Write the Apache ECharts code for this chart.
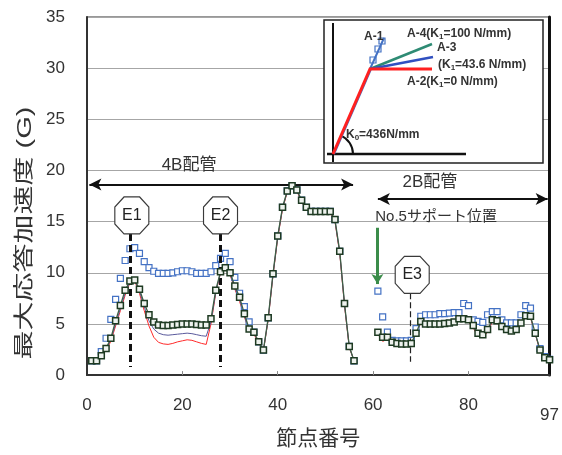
<!DOCTYPE html>
<html>
<head>
<meta charset="utf-8">
<script src="https://cdn.jsdelivr.net/npm/echarts@6/dist/echarts.min.js"></script>
<style>
html, body { margin: 0; padding: 0; background: #fff; }
#chart { width: 562px; height: 455px; }
</style>
</head>
<body>
<div id="chart"></div>
<script>
// Maximum response acceleration (G) per node, nodes 1..97 (57-60 have no value)
const caseA1 = [1.4,1.4,2.3,3.6,5.45,7.4,9.45,11.2,12.35,12.45,
  11.9,11.1,10.5,10.15,9.95,9.95,9.95,10.0,10.1,10.2,
  10.2,10.1,9.95,9.95,9.95,10.1,10.7,11.4,11.9,11.1,
  9.55,8.0,6.7,5.2,4.2,3.25,2.45,5.6,9.9,13.6,
  16.4,18.0,18.5,18.1,17.1,16.4,16.0,16.0,16.0,16.0,
  16.0,15.2,12.1,7.0,2.8,1.4,null,null,null,null,
  8.2,5.7,4.2,3.4,3.35,3.35,3.35,3.4,4.55,5.75,
  5.9,5.9,5.9,6.0,6.0,6.05,6.1,6.1,7.0,6.8,
  5.4,5.25,5.15,5.9,6.2,6.2,5.4,5.1,5.1,5.1,
  5.9,6.8,6.55,4.7,2.6,1.8,1.55];

const caseA2 = [1.4,1.4,1.8,2.4,3.3,4.8,6.3,7.8,9.0,9.2,
  8.0,6.3,4.8,3.7,3.2,3.05,3.0,3.1,3.25,3.35,
  3.45,3.4,3.25,3.1,3.0,5.0,8.0,10.0,10.4,9.8,
  8.4,7.2,5.7,4.3,4.0,3.1,2.4,5.4,9.7,13.4,
  16.2,17.9,18.4,18.0,16.9,16.2,15.9,15.9,15.9,15.9,
  15.9,15.0,11.9,6.8,2.7,1.4,null,null,null,null,
  4.0,3.3,3.5,3.0,2.95,2.9,2.9,3.0,4.0,5.1,
  4.9,4.85,4.85,4.85,4.9,5.0,5.0,5.35,5.4,5.2,
  4.6,3.8,3.7,4.2,5.2,5.1,4.55,4.2,4.05,4.25,
  4.9,5.7,5.6,4.0,2.4,1.7,1.5];

const caseA3 = [1.4,1.4,1.85,2.5,3.45,5.0,6.5,8.0,9.1,9.25,
  8.2,6.7,5.3,4.5,4.1,3.95,3.9,3.95,4.0,4.05,
  4.1,4.05,3.95,3.85,3.8,5.2,8.1,10.0,10.45,9.9,
  8.5,7.4,5.8,4.4,4.1,3.2,2.4,5.5,9.8,13.5,
  16.3,17.95,18.45,18.05,17.0,16.3,15.95,15.95,15.95,15.95,
  15.95,15.1,12.0,6.9,2.75,1.4,null,null,null,null,
  4.1,3.5,3.6,3.1,3.0,2.95,2.95,3.05,4.05,5.2,
  4.95,4.9,4.9,4.9,4.95,5.05,5.05,5.4,5.45,5.3,
  4.7,3.95,3.8,4.3,5.3,5.2,4.65,4.3,4.15,4.35,
  5.0,5.75,5.7,4.05,2.45,1.7,1.5];

const caseA4 = [1.4,1.4,1.9,2.6,3.6,5.3,6.8,8.3,9.2,9.3,
  8.4,7.0,5.9,5.2,4.9,4.85,4.85,4.9,4.95,5.0,
  5.0,5.0,4.95,4.9,4.9,5.5,8.3,10.1,10.5,10.0,
  8.7,7.6,6.0,4.5,4.2,3.25,2.45,5.6,9.9,13.6,
  16.4,18.0,18.5,18.1,17.1,16.4,16.0,16.0,16.0,16.0,
  16.0,15.2,12.1,7.0,2.8,1.4,null,null,null,null,
  4.2,3.7,3.7,3.2,3.1,3.05,3.05,3.1,4.1,5.25,
  5.0,5.0,5.0,5.0,5.05,5.1,5.2,5.5,5.5,5.4,
  4.85,4.1,3.95,4.45,5.4,5.3,4.75,4.45,4.3,4.45,
  5.1,5.8,5.75,4.1,2.45,1.7,1.5];

const xTicks = [0, 20, 40, 60, 80, 97];
const xInnerTicks = [20, 40, 60, 80];

// Excitation points and piping spans (node number / G)
const excitationNodes = { E1: 9.0, E2: 27.9, E3: 67.7 };
const span4B = [0.5, 55.8];
const span2B = [61.0, 96.6];
const supportNode = 60.9;

const LATIN = "'Liberation Sans', Arial, sans-serif";
const CJK = "'Liberation Sans', 'Noto Sans CJK JP', sans-serif";
const TEXT = '#333';

const toPairs = arr => arr.map((v, i) => [i + 1, v]);

const octagon = 'path://M27 0 L73 0 L100 27 L100 73 L73 100 L27 100 L0 73 L0 27 Z';

function octagonPoint(name, x, y) {
  return {
    coord: [x, y],
    symbol: octagon,
    symbolSize: [34, 37],
    itemStyle: { color: '#fff', borderColor: '#3a3a3a', borderWidth: 1.2 },
    label: { show: true, position: 'inside', formatter: name, fontSize: 16, color: '#222', fontFamily: LATIN }
  };
}

function textPoint(text, x, y, size) {
  return {
    coord: [x, y],
    symbol: 'rect',
    symbolSize: 1,
    itemStyle: { color: 'rgba(0,0,0,0)' },
    label: { show: true, position: 'inside', formatter: text, fontSize: size, color: TEXT, fontFamily: CJK }
  };
}

const chart = echarts.init(document.getElementById('chart'), null, { renderer: 'canvas' });

const sub = () => ({ fontSize: 8, fontWeight: 'bold', fontFamily: LATIN, fill: TEXT, verticalAlign: 'bottom', lineHeight: 14, padding: [6, 0, 0, 0] });
const base = { fontSize: 12, fontWeight: 'bold', fontFamily: LATIN, fill: TEXT, lineHeight: 14 };

function insetText(x, y, text) {
  return {
    type: 'text', x: x, y: y, z: 12,
    style: {
      text: text,
      rich: { a: base, s: sub() },
      fill: TEXT, fontSize: 12, fontWeight: 'bold', fontFamily: LATIN,
      textVerticalAlign: 'middle', verticalAlign: 'middle'
    }
  };
}

const option = {
  animation: false,
  backgroundColor: '#fff',
  grid: { left: 87, right: 12, top: 17, bottom: 76.5, show: true, borderColor: '#333', borderWidth: 1.2, backgroundColor: 'transparent' },
  xAxis: {
    type: 'value', min: 0, max: 97,
    name: '節点番号', nameLocation: 'middle', nameGap: 52,
    nameTextStyle: { fontSize: 21, color: TEXT, fontFamily: CJK },
    axisLine: { show: true, lineStyle: { color: '#333', width: 2 } },
    axisTick: { show: true, inside: true, length: 4, customValues: xInnerTicks, lineStyle: { color: '#888' } },
    axisLabel: {
      customValues: xTicks, margin: 22, fontSize: 17, color: TEXT, fontFamily: LATIN,
      formatter: v => (v === 97 ? '{low|97}' : String(v)),
      rich: { low: { fontSize: 17, color: TEXT, fontFamily: LATIN, padding: [10, 0, 0, 0] } }
    },
    splitLine: { show: false }
  },
  yAxis: [{
    type: 'value', min: 0, max: 35, interval: 5,
    axisLine: { show: true, lineStyle: { color: '#333', width: 2 } },
    axisTick: { show: false },
    axisLabel: { margin: 22, fontSize: 17, color: TEXT, fontFamily: LATIN },
    splitLine: { show: true, lineStyle: { color: '#a6a6a6', width: 1 } }
  }, {
    type: 'value', min: 0, max: 35, position: 'right',
    axisLine: { show: true, lineStyle: { color: '#111', width: 3 } },
    axisTick: { show: false }, axisLabel: { show: false }, splitLine: { show: false }
  }],
  series: [
    {
      name: 'A-2', type: 'line', data: toPairs(caseA2), connectNulls: false,
      showSymbol: false, lineStyle: { color: '#ff2a2a', width: 1 }, z: 2
    },
    {
      name: 'A-3', type: 'line', data: toPairs(caseA3), connectNulls: false,
      showSymbol: false, lineStyle: { color: '#5a5a9c', width: 1 }, z: 3
    },
    {
      name: 'A-1', type: 'line', data: toPairs(caseA1), connectNulls: false,
      symbol: 'rect', symbolSize: 6, showSymbol: true,
      lineStyle: { width: 0, opacity: 0 },
      itemStyle: { color: '#fff', borderColor: '#4472c4', borderWidth: 1.2 }, z: 4
    },
    {
      name: 'A-4', type: 'line', data: toPairs(caseA4), connectNulls: false,
      symbol: 'rect', symbolSize: 6, showSymbol: true,
      lineStyle: { color: '#3f5f45', width: 1.3 },
      itemStyle: { color: '#eef2ee', borderColor: '#1e3a22', borderWidth: 1.5 }, z: 5,
      markLine: {
        silent: true, animation: false,
        label: { show: false },
        emphasis: { disabled: true },
        data: [
          [{ coord: [excitationNodes.E1, 13.8], symbol: 'none', lineStyle: { type: [7, 4], width: 3, color: '#111' } },
           { coord: [excitationNodes.E1, 0.8], symbol: 'none' }],
          [{ coord: [excitationNodes.E2, 13.8], symbol: 'none', lineStyle: { type: [7, 4], width: 3, color: '#111' } },
           { coord: [excitationNodes.E2, 0.8], symbol: 'none' }],
          [{ coord: [excitationNodes.E3, 8.0], symbol: 'none', lineStyle: { type: [6, 3], width: 1.2, color: '#222' } },
           { coord: [excitationNodes.E3, 1.3], symbol: 'none' }],
          [{ coord: [span4B[0], 18.64], symbol: 'arrow', symbolSize: [9, 12], lineStyle: { type: 'solid', width: 2, color: '#111' } },
           { coord: [span4B[1], 18.64], symbol: 'arrow', symbolSize: [9, 12] }],
          [{ coord: [span2B[0], 17.2], symbol: 'arrow', symbolSize: [9, 12], lineStyle: { type: 'solid', width: 2, color: '#111' } },
           { coord: [span2B[1], 17.2], symbol: 'arrow', symbolSize: [9, 12] }],
          [{ coord: [supportNode, 14.4], symbol: 'none', lineStyle: { type: 'solid', width: 3, color: '#3b8c4a' } },
           { coord: [supportNode, 8.9], symbol: 'arrow', symbolSize: [9, 10] }]
        ]
      },
      markPoint: {
        silent: true, animation: false,
        data: [
          octagonPoint('E1', 9.4, 15.6),
          octagonPoint('E2', 28.0, 15.6),
          octagonPoint('E3', 68.2, 9.8),
          textPoint('4B配管', 21.4, 20.47, 17),
          textPoint('2B配管', 71.9, 18.8, 17),
          textPoint('No.5サポート位置', 73.2, 15.44, 15)
        ]
      }
    }
  ],
  graphic: [
    {
      type: 'text', x: 25, y: 233, rotation: Math.PI / 2, scaleX: 1.45,
      style: {
        text: '最大応答加速度 (G)', fill: TEXT, fontSize: 20, fontFamily: CJK,
        textAlign: 'center', align: 'center', textVerticalAlign: 'middle', verticalAlign: 'middle'
      }
    },
    // Support stiffness model inset
    {
      type: 'group', z: 10,
      children: [
        { type: 'rect', z: 10, shape: { x: 324, y: 20, width: 219, height: 143 }, style: { fill: '#fff', stroke: '#222', lineWidth: 1.5 } },
        { type: 'line', z: 11, shape: { x1: 333, y1: 23, x2: 333, y2: 162 }, style: { stroke: '#111', lineWidth: 2 } },
        { type: 'line', z: 11, shape: { x1: 327, y1: 154, x2: 466, y2: 154 }, style: { stroke: '#111', lineWidth: 2.5 } },
        { type: 'arc', z: 11, shape: { cx: 333, cy: 154, r: 20, startAngle: -1.16, endAngle: 0, clockwise: true }, style: { stroke: '#111', lineWidth: 2, fill: 'none' } },
        { type: 'line', z: 11, shape: { x1: 334, y1: 154, x2: 371, y2: 69 }, style: { stroke: '#4472c4', lineWidth: 2 } },
        { type: 'line', z: 12, shape: { x1: 370, y1: 69, x2: 384, y2: 38 }, style: { stroke: '#4472c4', lineWidth: 2 } },
        { type: 'rect', z: 12, shape: { x: 370, y: 57, width: 6, height: 6 }, style: { fill: 'none', stroke: '#4472c4', lineWidth: 1.2 } },
        { type: 'rect', z: 12, shape: { x: 375, y: 46, width: 6, height: 6 }, style: { fill: 'none', stroke: '#4472c4', lineWidth: 1.2 } },
        { type: 'rect', z: 12, shape: { x: 379, y: 38, width: 6, height: 6 }, style: { fill: 'none', stroke: '#4472c4', lineWidth: 1.2 } },
        { type: 'line', z: 12, shape: { x1: 370, y1: 69, x2: 432, y2: 44 }, style: { stroke: '#2e8b74', lineWidth: 2.5 } },
        { type: 'line', z: 12, shape: { x1: 370, y1: 69, x2: 433, y2: 57 }, style: { stroke: '#3050c0', lineWidth: 2.5 } },
        { type: 'polyline', z: 13, shape: { points: [[333, 154], [370, 69], [432, 69]] }, style: { stroke: '#ff2020', lineWidth: 3, fill: 'none' } },
        insetText(364, 37, '{a|A-1}'),
        insetText(407, 34, '{a|A-4(K}{s|1}{a|=100 N/mm)}'),
        insetText(437, 48, '{a|A-3}'),
        insetText(438, 65, '{a|(K}{s|1}{a|=43.6 N/mm)}'),
        insetText(407, 82, '{a|A-2(K}{s|1}{a|=0 N/mm)}'),
        insetText(346, 135, '{a|K}{s|0}{a|=436N/mm}')
      ]
    }
  ]
};

chart.setOption(option);
</script>
</body>
</html>
